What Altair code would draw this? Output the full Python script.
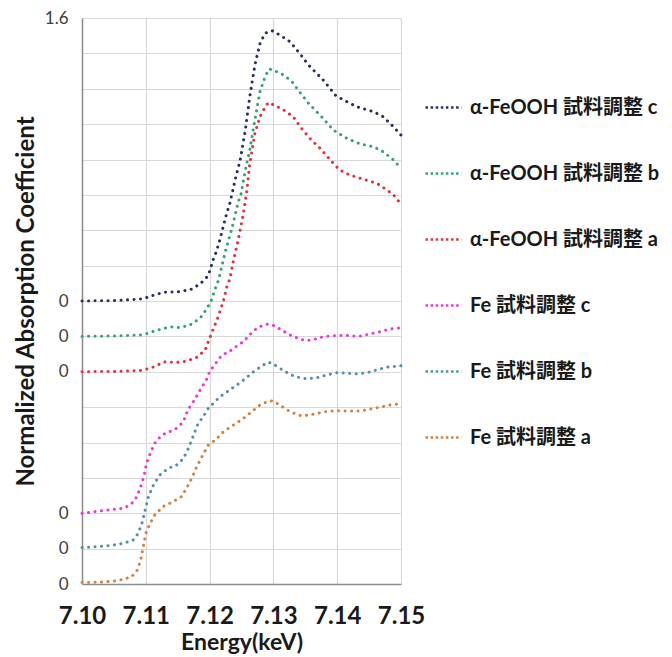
import altair as alt
import pandas as pd

# ---------------- data ----------------
series_names = [
    "α-FeOOH 試料調整 c",
    "α-FeOOH 試料調整 b",
    "α-FeOOH 試料調整 a",
    "Fe 試料調整 c",
    "Fe 試料調整 b",
    "Fe 試料調整 a",
]
series_colors = ["#26305a", "#33a36f", "#e5303f", "#e93ad6", "#4f93a3", "#d3813f"]

afe_c_E = [7.1000, 7.1050, 7.1095, 7.1115, 7.1130, 7.1150, 7.1170, 7.1185, 7.1197, 7.1201,
           7.1205, 7.1211, 7.1216, 7.1222, 7.1227, 7.1232, 7.1240, 7.1248, 7.1256, 7.1263,
           7.1271, 7.1279, 7.1287, 7.1298, 7.1310, 7.1326, 7.1339, 7.1355, 7.1378, 7.1397,
           7.1410, 7.1431, 7.1457, 7.1472, 7.1488, 7.1500]
afe_c_mu = [0.800, 0.801, 0.806, 0.818, 0.825, 0.826, 0.832, 0.848, 0.870, 0.888,
            0.914, 0.942, 0.972, 1.015, 1.049, 1.078, 1.142, 1.199, 1.283, 1.378,
            1.467, 1.528, 1.557, 1.564, 1.552, 1.533, 1.505, 1.467, 1.425, 1.382,
            1.368, 1.349, 1.335, 1.321, 1.293, 1.269]

afe_b_E = [7.1000, 7.1050, 7.1095, 7.1115, 7.1138, 7.1154, 7.1169, 7.1185, 7.1196, 7.1203,
           7.1208, 7.1214, 7.1219, 7.1224, 7.1229, 7.1235, 7.1240, 7.1245, 7.1249, 7.1256,
           7.1263, 7.1271, 7.1279, 7.1287, 7.1293, 7.1300, 7.1316, 7.1329, 7.1339, 7.1355,
           7.1378, 7.1394, 7.1415, 7.1436, 7.1457, 7.1472, 7.1488, 7.1500]
afe_b_mu = [0.700, 0.701, 0.704, 0.716, 0.727, 0.725, 0.732, 0.751, 0.779, 0.803,
            0.831, 0.859, 0.897, 0.935, 0.968, 1.005, 1.043, 1.081, 1.100, 1.170,
            1.227, 1.312, 1.392, 1.434, 1.456, 1.453, 1.439, 1.420, 1.396, 1.359,
            1.316, 1.283, 1.260, 1.244, 1.236, 1.222, 1.199, 1.175]

afe_a_E = [7.1000, 7.1050, 7.1090, 7.1107, 7.1130, 7.1148, 7.1164, 7.1180, 7.1193, 7.1201,
           7.1206, 7.1212, 7.1217, 7.1222, 7.1227, 7.1232, 7.1237, 7.1243, 7.1248, 7.1253,
           7.1258, 7.1263, 7.1271, 7.1279, 7.1287, 7.1292, 7.1301, 7.1316, 7.1331, 7.1342,
           7.1357, 7.1373, 7.1389, 7.1404, 7.1420, 7.1441, 7.1462, 7.1478, 7.1491, 7.1500]
afe_a_mu = [0.600, 0.601, 0.603, 0.610, 0.628, 0.626, 0.630, 0.641, 0.661, 0.699,
            0.722, 0.748, 0.775, 0.803, 0.840, 0.864, 0.911, 0.958, 1.001, 1.048,
            1.106, 1.189, 1.274, 1.321, 1.349, 1.361, 1.354, 1.340, 1.321, 1.293,
            1.260, 1.232, 1.199, 1.170, 1.156, 1.144, 1.133, 1.114, 1.095, 1.073]

fe_c_E = [7.1000, 7.1049, 7.1065, 7.1075, 7.1083, 7.1088, 7.1094, 7.1098, 7.1101, 7.1107,
          7.1114, 7.1125, 7.1138, 7.1148, 7.1159, 7.1164, 7.1169, 7.1177, 7.1185, 7.1195,
          7.1201, 7.1206, 7.1216, 7.1227, 7.1235, 7.1245, 7.1253, 7.1263, 7.1276, 7.1290,
          7.1298, 7.1313, 7.1326, 7.1342, 7.1352, 7.1365, 7.1378, 7.1394, 7.1410, 7.1425,
          7.1438, 7.1451, 7.1467, 7.1483, 7.1500]
fe_c_mu = [0.200, 0.211, 0.214, 0.223, 0.237, 0.256, 0.285, 0.313, 0.341, 0.369,
           0.398, 0.421, 0.431, 0.440, 0.459, 0.483, 0.501, 0.522, 0.548, 0.577,
           0.605, 0.614, 0.640, 0.655, 0.662, 0.676, 0.685, 0.705, 0.726, 0.734,
           0.733, 0.718, 0.704, 0.692, 0.688, 0.692, 0.699, 0.702, 0.703, 0.701,
           0.701, 0.707, 0.713, 0.721, 0.724]

fe_b_E = [7.1000, 7.1028, 7.1049, 7.1065, 7.1080, 7.1088, 7.1094, 7.1099, 7.1104, 7.1112,
          7.1122, 7.1135, 7.1148, 7.1159, 7.1167, 7.1175, 7.1182, 7.1190, 7.1198, 7.1206,
          7.1216, 7.1235, 7.1250, 7.1269, 7.1284, 7.1292, 7.1300, 7.1316, 7.1334, 7.1352,
          7.1368, 7.1384, 7.1399, 7.1415, 7.1431, 7.1446, 7.1462, 7.1478, 7.1496, 7.1500]
fe_b_mu = [0.103, 0.106, 0.110, 0.115, 0.124, 0.143, 0.172, 0.209, 0.247, 0.280,
           0.308, 0.327, 0.336, 0.355, 0.384, 0.421, 0.454, 0.473, 0.497, 0.511,
           0.529, 0.553, 0.572, 0.600, 0.619, 0.627, 0.622, 0.603, 0.586, 0.580,
           0.583, 0.591, 0.597, 0.596, 0.594, 0.597, 0.605, 0.613, 0.616, 0.617]

fe_a_E = [7.1000, 7.1028, 7.1049, 7.1065, 7.1078, 7.1087, 7.1092, 7.1096, 7.1100, 7.1107,
          7.1114, 7.1127, 7.1143, 7.1156, 7.1164, 7.1172, 7.1180, 7.1188, 7.1198, 7.1209,
          7.1222, 7.1237, 7.1253, 7.1266, 7.1279, 7.1290, 7.1299, 7.1310, 7.1326, 7.1344,
          7.1363, 7.1381, 7.1399, 7.1415, 7.1436, 7.1451, 7.1470, 7.1483, 7.1496, 7.1500]
fe_a_mu = [0.004, 0.005, 0.008, 0.013, 0.021, 0.040, 0.068, 0.105, 0.143, 0.172,
           0.195, 0.219, 0.233, 0.247, 0.271, 0.299, 0.332, 0.360, 0.393, 0.407,
           0.431, 0.449, 0.468, 0.487, 0.506, 0.515, 0.518, 0.506, 0.487, 0.475,
           0.480, 0.487, 0.490, 0.489, 0.489, 0.494, 0.501, 0.506, 0.509, 0.510]

x_tick_values = [7.10, 7.11, 7.12, 7.13, 7.14, 7.15]
y_tick_values = [0.0, 0.1, 0.2, 0.3, 0.4, 0.5, 0.6, 0.7, 0.8, 0.9,
                 1.0, 1.1, 1.2, 1.3, 1.4, 1.5, 1.6]

# ---------------- table ----------------
all_E = [afe_c_E, afe_b_E, afe_a_E, fe_c_E, fe_b_E, fe_a_E]
all_mu = [afe_c_mu, afe_b_mu, afe_a_mu, fe_c_mu, fe_b_mu, fe_a_mu]
rows = []
for name, es, mus in zip(series_names, all_E, all_mu):
    for e, m in zip(es, mus):
        rows.append({"series": name, "E": e, "mu": m})
df = pd.DataFrame(rows)

FONT = "Lato, 'Noto Sans CJK JP', sans-serif"

label_expr = (
    "datum.value > 1.55 ? '1.6' : "
    "(indexof([0,1,2,6,7,8], round(datum.value*10)) >= 0 ? '0' : '')"
)

chart = (
    alt.Chart(df)
    .mark_line(strokeWidth=3, strokeDash=[0.1, 6.4], strokeCap="round")
    .encode(
        x=alt.X(
            "E:Q",
            scale=alt.Scale(domain=[7.10, 7.15], nice=False, zero=False),
            axis=alt.Axis(
                values=x_tick_values,
                format=".2f",
                title="Energy(keV)",
                labelFont=FONT,
                labelFontWeight="bold",
                labelFontSize=24,
                labelColor="#1a1a1a",
                labelPadding=20,
                titleFont=FONT,
                titleFontWeight="bold",
                titleFontSize=23,
                titleColor="#1a1a1a",
                titlePadding=3,
                ticks=False,
                tickSize=0,
                domainColor="#8c8c8c",
                domainWidth=1.5,
                gridColor="#d9d9d9",
                gridWidth=1.2,
                labelFlush=False,
            ),
        ),
        y=alt.Y(
            "mu:Q",
            scale=alt.Scale(domain=[0, 1.6], nice=False),
            axis=alt.Axis(
                values=y_tick_values,
                labelExpr=label_expr,
                title="Normalized Absorption Coefficient",
                labelFont=FONT,
                labelFontSize=17,
                labelColor="#404040",
                labelPadding=14,
                titleFont=FONT,
                titleFontWeight="bold",
                titleFontSize=24,
                titleColor="#1a1a1a",
                titlePadding=6,
                ticks=False,
                tickSize=0,
                domainColor="#8c8c8c",
                domainWidth=1.5,
                gridColor="#d9d9d9",
                gridWidth=1.2,
                labelFlush=False,
            ),
        ),
        color=alt.Color(
            "series:N",
            scale=alt.Scale(domain=series_names, range=series_colors),
            sort=series_names,
            legend=alt.Legend(
                title=None,
                orient="none",
                legendX=342,
                legendY=70,
                symbolType="stroke",
                symbolSize=1296,
                symbolStrokeWidth=2.5,
                symbolDash=[2.5, 2.6],
                labelFont=FONT,
                labelFontWeight="bold",
                labelFontSize=20,
                labelColor="#1a1a1a",
                labelOffset=7,
                labelLimit=400,
                rowPadding=36,
            ),
        ),
    )
    .properties(
        width=319,
        height=566,
        autosize=alt.AutoSizeParams(type="none"),
        padding={"left": 74, "top": 10, "right": 262, "bottom": 78},
    )
    .configure_view(stroke=None)
)

chart.save("out.html", embed_options={"renderer": "svg", "actions": False})
